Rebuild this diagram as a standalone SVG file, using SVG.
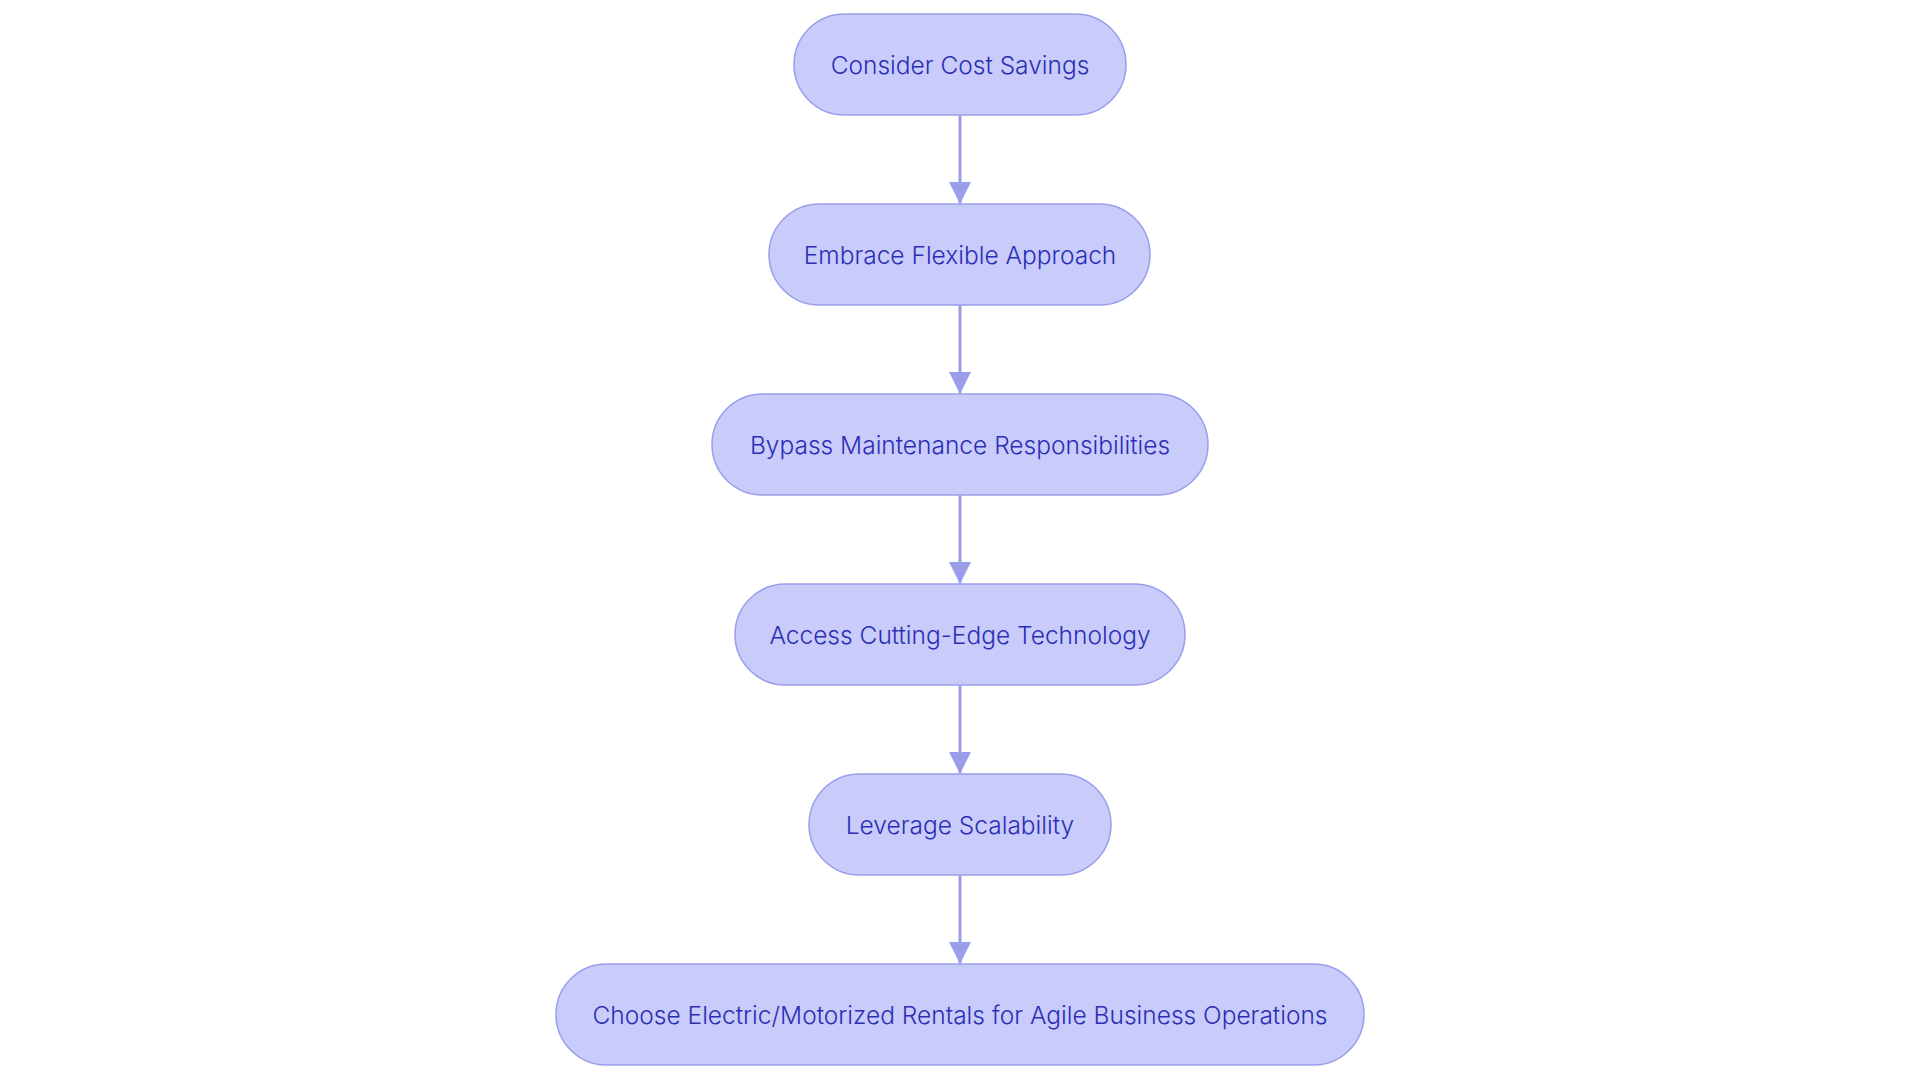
<svg xmlns="http://www.w3.org/2000/svg" width="1920" height="1080" viewBox="0 0 1920 1080">
<style>
.node rect{fill:#c9cbfb;stroke:#9a9eea;stroke-width:1.5}
.node text{font-family:Inter,"Noto Sans",sans-serif;font-size:24.5px;font-weight:300;fill:#2b2fb5;text-anchor:middle;dominant-baseline:central}
.edge{stroke:#9a9eea;stroke-width:3;fill:none}
</style>
<defs>
<marker id="arr" markerWidth="22" markerHeight="22" refX="21" refY="11" orient="auto" markerUnits="userSpaceOnUse">
<path d="M0,0 L22,11 L0,22 Z" fill="#9a9eea"/>
</marker>
</defs>
<rect width="1920" height="1080" fill="#ffffff"/>
<g id="connectors">
<line class="edge" x1="960" y1="115" x2="960" y2="203" marker-end="url(#arr)"/>
<line class="edge" x1="960" y1="305" x2="960" y2="393" marker-end="url(#arr)"/>
<line class="edge" x1="960" y1="495" x2="960" y2="583" marker-end="url(#arr)"/>
<line class="edge" x1="960" y1="685" x2="960" y2="773" marker-end="url(#arr)"/>
<line class="edge" x1="960" y1="875" x2="960" y2="963" marker-end="url(#arr)"/>
</g>
<g id="n1" class="node"><rect x="794" y="14" width="332" height="101" rx="50.5"/><text x="960" y="64.5">Consider Cost Savings</text></g>
<g id="n2" class="node"><rect x="769" y="204" width="381" height="101" rx="50.5"/><text x="960" y="254.5">Embrace Flexible Approach</text></g>
<g id="n3" class="node"><rect x="712" y="394" width="496" height="101" rx="50.5"/><text x="960" y="444.5">Bypass Maintenance Responsibilities</text></g>
<g id="n4" class="node"><rect x="735" y="584" width="450" height="101" rx="50.5"/><text x="960" y="634.5">Access Cutting-Edge Technology</text></g>
<g id="n5" class="node"><rect x="809" y="774" width="302" height="101" rx="50.5"/><text x="960" y="824.5">Leverage Scalability</text></g>
<g id="n6" class="node"><rect x="556" y="964" width="808" height="101" rx="50.5"/><text x="960" y="1014.5">Choose Electric/Motorized Rentals for Agile Business Operations</text></g>
</svg>
